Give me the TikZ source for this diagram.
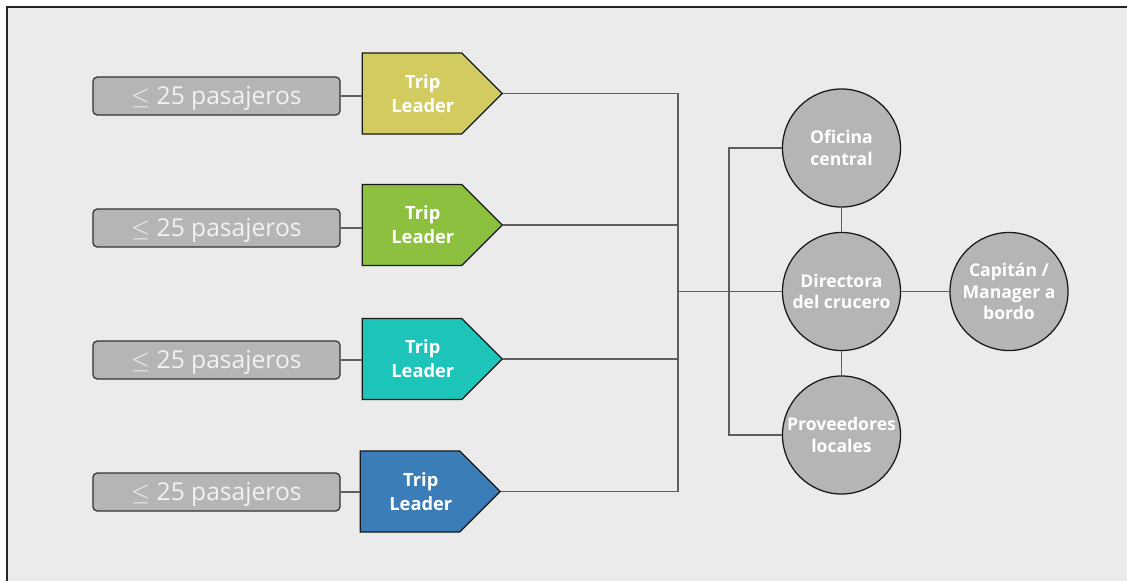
\documentclass[tikz,border=0pt]{standalone}
\usepackage{fontspec}
\setmainfont{Open Sans}
\usetikzlibrary{shapes.symbols}

\definecolor{fondo}{HTML}{EBEBEB}
\definecolor{gris}{HTML}{B5B5B5}
\definecolor{linea}{HTML}{5E5E5E}
\definecolor{amarillo}{HTML}{D2CC60}
\definecolor{verde}{HTML}{8DC03F}
\definecolor{turquesa}{HTML}{1DC4B9}
\definecolor{azul}{HTML}{3B7DB8}

\tikzset{
    grupo/.style={draw=black!80, fill=gris, line width=0.9pt, rounded corners=3pt,
        minimum width=6.175cm, minimum height=0.95cm, inner sep=0pt, text depth=1pt,
        text=white!95!black, font=\fontsize{17.5}{20}\selectfont},
    leader/.style={signal, signal to=east, signal pointer angle=90, draw=black!90,
        fill=#1, line width=0.9pt, minimum width=3.5cm, minimum height=2.025cm,
        inner sep=0pt},
    leadertxt/.style={text=white, align=center, inner sep=0pt,
        font=\bfseries\fontsize{13}{17}\selectfont},
    rol/.style={circle, draw=black!90, fill=gris, line width=0.9pt, minimum size=2.95cm,
        inner sep=0pt, text=white, align=center,
        font=\bfseries\fontsize{12.5}{15.5}\selectfont},
    conector/.style={linea, line width=0.8pt}
}

\begin{document}
\begin{tikzpicture}[x=0.025cm, y=-0.025cm]
    % Marco
    \useasboundingbox (0,0) rectangle (1127,580);
    \clip (0,0) rectangle (1127,580);
    \fill[white] (0,0) rectangle (1127,580);
    \draw[black!85, line width=1.5pt, fill=fondo] (7,7) rectangle (1140,595);

    % Grupos de pasajeros
    \node[grupo] (g1) at (216.5,96) {$\leq$ 25 pasajeros};
    \node[grupo] (g2) at (216.5,228) {$\leq$ 25 pasajeros};
    \node[grupo] (g3) at (216.5,360) {$\leq$ 25 pasajeros};
    \node[grupo] (g4) at (216.5,492) {$\leq$ 25 pasajeros};

    % Trip leaders
    \node[leader=amarillo] (t1) at (412,93.5) {};
    \node[leader=verde] (t2) at (412,225) {};
    \node[leader=turquesa] (t3) at (412,359) {};
    \node[leader=azul] (t4) at (410,491.5) {};
    \node[leadertxt] (t1txt) at ([xshift=0.27cm]t1.center) {Trip\\Leader};
    \node[leadertxt] (t2txt) at ([xshift=0.27cm]t2.center) {Trip\\Leader};
    \node[leadertxt] (t3txt) at ([xshift=0.27cm]t3.center) {Trip\\Leader};
    \node[leadertxt] (t4txt) at ([xshift=0.27cm]t4.center) {Trip\\Leader};

    % Roles del crucero
    \node[rol] (ofi) at (841.5,148) {Oficina\\central};
    \node[rol] (dir) at (841.5,291.5) {Directora\\del crucero};
    \node[rol] (prov) at (841.5,435) {Proveedores\\locales};
    \node[rol] (cap) at (1009,291.5) {Capitán /\\Manager a\\bordo};

    % Puntos de las barras
    \coordinate (barra) at (678,291.5);
    \coordinate (barra2) at (729,291.5);

    % Conectores
    \draw[conector] (g1.east) -- (g1.east -| t1.west);
    \draw[conector] (g2.east) -- (g2.east -| t2.west);
    \draw[conector] (g3.east) -- (g3.east -| t3.west);
    \draw[conector] (g4.east) -- (g4.east -| t4.west);
    \draw[conector] (t1.east) -- (t1.east -| barra) -- (t4.east -| barra) -- (t4.east);
    \draw[conector] (t2.east) -- (t2.east -| barra);
    \draw[conector] (t3.east) -- (t3.east -| barra);
    \draw[conector] (barra) -- (dir.west);
    \draw[conector] (ofi.west) -- (ofi.west -| barra2) -- (prov.west -| barra2) -- (prov.west);
    \draw[conector] (ofi.south) -- (dir.north);
    \draw[conector] (dir.south) -- (prov.north);
    \draw[conector] (dir.east) -- (cap.west);
\end{tikzpicture}
\end{document}
